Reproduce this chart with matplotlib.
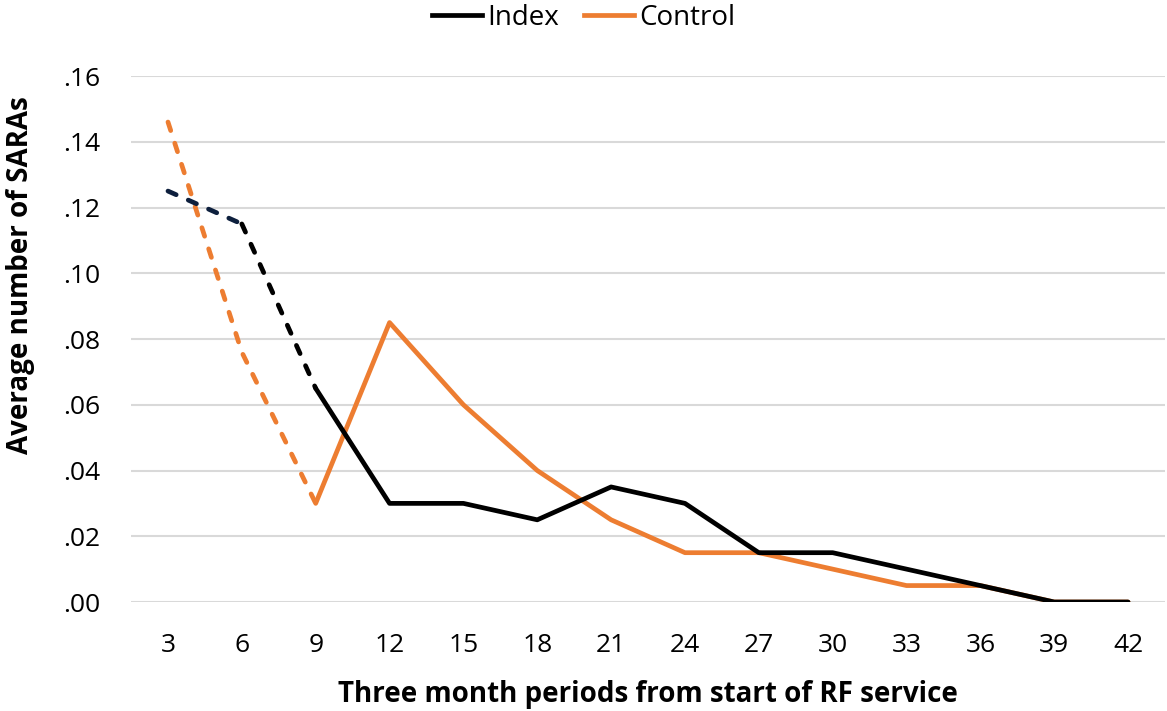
import matplotlib.pyplot as plt
from matplotlib.lines import Line2D

periods = ['3', '6', '9', '12', '15', '18', '21', '24', '27', '30', '33', '36', '39', '42']
index_vals = [.125, .115, .065, .030, .030, .025, .035, .030, .015, .015, .010, .005, .000, .000]
control_vals = [.146, .076, .030, .085, .060, .040, .025, .015, .015, .010, .005, .005, .000, .000]
y_ticks = [0, .02, .04, .06, .08, .10, .12, .14, .16]
y_labels = ['.00', '.02', '.04', '.06', '.08', '.10', '.12', '.14', '.16']

black = '#000000'
navy = '#0D1F3D'
orange = '#ED7D31'

plt.rcParams['font.family'] = ['Open Sans', 'DejaVu Sans']

fig = plt.figure(figsize=(11.67, 7.11), dpi=100)
ax = fig.add_axes([0.1123, 0.1533, 0.886, 0.7398])

x = list(range(len(periods)))
lw = 3.4
dash = dict(ls=(0, (1.9, 2.8)), dash_capstyle='round')

# dashed early part (first three points)
ax.plot(x[2:], control_vals[2:], color=orange, lw=lw, solid_joinstyle='round', solid_capstyle='round', zorder=3)
ax.plot(x[:3], control_vals[:3], color=orange, lw=lw, zorder=3, **dash)
ax.plot(x[2:], index_vals[2:], color=black, lw=lw, solid_joinstyle='round', solid_capstyle='round', zorder=4)
ax.plot(x[1:3], index_vals[1:3], color=black, lw=lw, zorder=4, **dash)
ax.plot(x[:2], index_vals[:2], color=navy, lw=lw, zorder=4, **dash)

ax.set_xlim(-0.5, len(periods) - 0.5)
ax.set_ylim(0, 0.16)
ax.set_xticks(x)
ax.set_xticklabels(periods)
ax.set_yticks(y_ticks)
ax.set_yticklabels(y_labels)
ax.tick_params(axis='both', length=0, labelsize=19, colors='#000000')
ax.tick_params(axis='x', pad=22)
ax.tick_params(axis='y', pad=22)
ax.grid(axis='y', color='#D9D9D9', lw=1.5)
ax.set_axisbelow(True)
for s in ax.spines.values():
    s.set_visible(False)

ax.set_xlabel('Three month periods from start of RF service', fontsize=20, fontweight='bold')
ax.set_ylabel('Average number of SARAs', fontsize=20, fontweight='bold')
ax.xaxis.set_label_coords(0.5, (602 - 694) / 526)
ax.xaxis.label.set_va('center')
ax.yaxis.set_label_coords((20 - 131) / 1034, 0.5 + (602 - 275 - 263) / 526)
ax.yaxis.label.set_va('center')

handles = [Line2D([], [], color=black, lw=lw), Line2D([], [], color=orange, lw=lw)]
fig.legend(handles, ['Index', 'Control'], loc='center', bbox_to_anchor=(0.5, 1 - 18 / 711),
           ncol=2, frameon=False, fontsize=20, handlelength=1.8, handletextpad=0.2, columnspacing=0.9)

fig.savefig('out.png', dpi=100)
